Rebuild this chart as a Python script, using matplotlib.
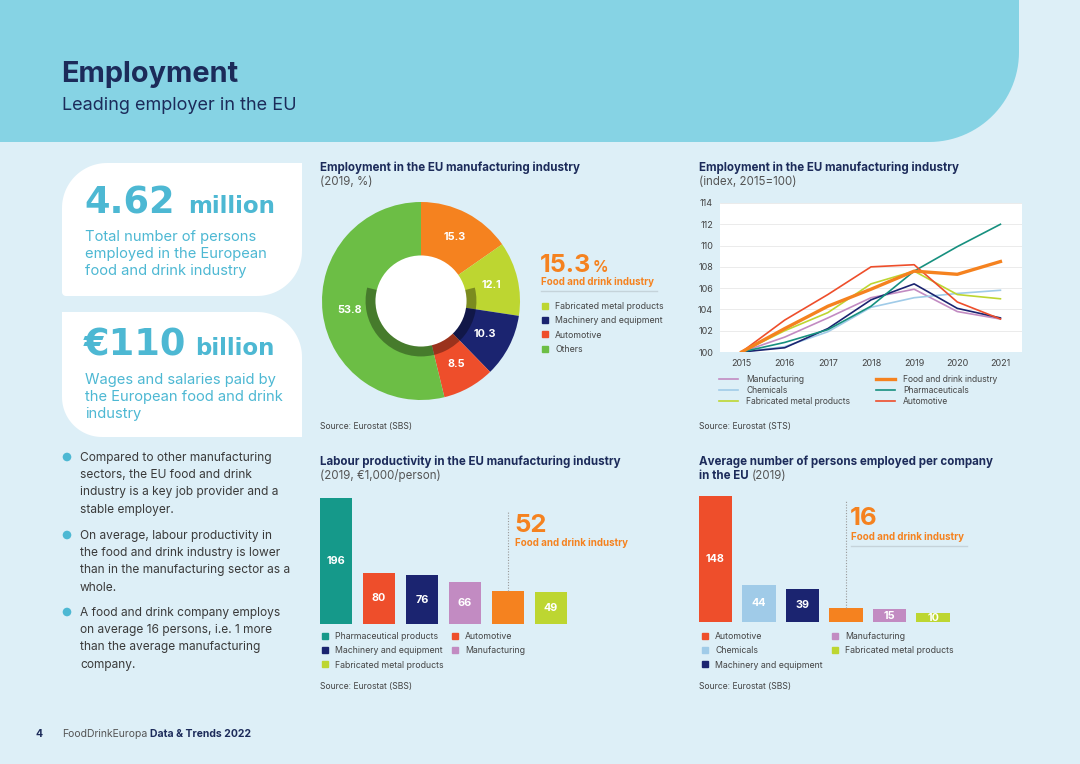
import numpy as np
import matplotlib
matplotlib.use('Agg')
import matplotlib.pyplot as plt
from matplotlib.patches import Polygon, Circle, Wedge
from matplotlib.lines import Line2D
from matplotlib.legend import Legend

plt.rcParams['font.family'] = ['Inter', 'DejaVu Sans']

W, H = 1080, 764

# colours
PAGE = '#DDEFF7'
HEAD = '#86D3E4'
NAVY = '#1C2B5A'
CYAN = '#4DB8D3'
GREY = '#444444'
ORANGE = '#F5821F'
RED = '#EE4E2B'
DARKBLUE = '#1B2470'
TEAL = '#15998A'
PINK = '#C28BC2'
LGREEN = '#BDD631'
GREEN = '#6CBE45'
LBLUE = '#A0CBE8'

# donut: employment share 2019 (%)
pie_labels = ['Food and drink industry', 'Fabricated metal products',
              'Machinery and equipment', 'Automotive', 'Others']
pie_values = [15.3, 12.1, 10.3, 8.5, 53.8]
pie_colors = [ORANGE, LGREEN, DARKBLUE, RED, GREEN]

# line chart: employment index 2015=100
years = [2015, 2016, 2017, 2018, 2019, 2020, 2021]
manufacturing = [100, 101.4, 103.2, 105.1, 105.9, 103.8, 103.1]
chemicals = [100, 100.5, 101.9, 104.2, 105.1, 105.5, 105.8]
fabricated = [100, 102.0, 103.7, 106.4, 107.6, 105.4, 105.0]
food_drink = [100, 102.2, 104.3, 105.9, 107.6, 107.3, 108.5]
pharma = [100, 100.9, 102.1, 104.3, 107.6, 109.9, 112.0]
automotive = [100, 103.0, 105.4, 108.0, 108.2, 104.7, 103.1]
machinery = [100, 100.4, 102.2, 104.9, 106.4, 104.1, 103.2]

# labour productivity 2019 (EUR 1,000 / person)
prod_labels = ['Pharmaceutical products', 'Automotive', 'Machinery and equipment',
               'Manufacturing', 'Food and drink industry', 'Fabricated metal products']
prod_values = [196, 80, 76, 66, 52, 49]
prod_colors = [TEAL, RED, DARKBLUE, PINK, ORANGE, LGREEN]

# average persons per company 2019
size_labels = ['Automotive', 'Chemicals', 'Machinery and equipment',
               'Food and drink industry', 'Manufacturing', 'Fabricated metal products']
size_values = [148, 44, 39, 16, 15, 10]
size_colors = [RED, LBLUE, DARKBLUE, ORANGE, PINK, LGREEN]


def rounded_shape(x0, y0, x1, y1, tl=0, tr=0, br=0, bl=0, n=30):
    # pixel coords, y goes down
    def arc(cx, cy, r, a0, a1):
        t = np.radians(np.linspace(a0, a1, n))
        return list(zip(cx + r * np.cos(t), cy + r * np.sin(t)))
    pts = []
    pts += arc(x0 + tl, y0 + tl, tl, 180, 270) if tl else [(x0, y0)]
    pts += arc(x1 - tr, y0 + tr, tr, 270, 360) if tr else [(x1, y0)]
    pts += arc(x1 - br, y1 - br, br, 0, 90) if br else [(x1, y1)]
    pts += arc(x0 + bl, y1 - bl, bl, 90, 180) if bl else [(x0, y1)]
    return pts


def px_axes(x0, y0, x1, y1):
    return fig.add_axes([x0 / W, 1 - y1 / H, (x1 - x0) / W, (y1 - y0) / H])


def after(t, gap=3):
    # x pixel just right of a drawn text
    fig.canvas.draw()
    bb = t.get_window_extent()
    return bb.x1 + gap


def add_legend(handles, labels, x, y, **kw):
    opts = dict(loc='upper left', bbox_to_anchor=(x, y), bbox_transform=bg.transData, frameon=False,
                fontsize=6.3, labelcolor=GREY, handlelength=0.8, handletextpad=0.8,
                labelspacing=0.6, borderpad=0, borderaxespad=0)
    opts.update(kw)
    bg.add_artist(Legend(bg, handles, labels, **opts))


fig = plt.figure(figsize=(10.8, 7.64), dpi=100)
fig.patch.set_facecolor(PAGE)

bg = fig.add_axes([0, 0, 1, 1])
bg.set_xlim(0, W)
bg.set_ylim(H, 0)
bg.axis('off')
bg.set_zorder(0)

# header band and white boxes
bg.add_patch(Polygon(rounded_shape(-5, -5, 1019, 142, br=90), closed=True, fc=HEAD, ec='none'))
bg.add_patch(Polygon(rounded_shape(62, 163, 302, 296, tl=45, br=45, bl=4), closed=True, fc='white', ec='none'))
bg.add_patch(Polygon(rounded_shape(62, 312, 302, 437, tr=45, bl=40), closed=True, fc='white', ec='none'))

bg.text(61, 74, 'Employment', fontsize=20.8, fontweight='bold', color=NAVY, va='center')
bg.text(62, 106, 'Leading employer in the EU', fontsize=13, color=NAVY, va='center')

# key figures
big = dict(family='DejaVu Sans', fontweight='bold', color=CYAN, va='baseline')
bg.text(84, 213, '4.62', fontsize=26.5, **big)
bg.text(188, 213, 'million', fontsize=16.5, **big)
bg.text(85, 254, 'Total number of persons\nemployed in the European\nfood and drink industry',
        fontsize=10.6, color=CYAN, va='center', linespacing=1.3)
bg.text(84, 355, '€110', fontsize=26.5, **big)
bg.text(195, 355, 'billion', fontsize=16.5, **big)
bg.text(85, 397, 'Wages and salaries paid by\nthe European food and drink\nindustry',
        fontsize=10.6, color=CYAN, va='center', linespacing=1.3)

bullets = [
    (457, 'Compared to other manufacturing\nsectors, the EU food and drink\nindustry is a key job provider and a\nstable employer.'),
    (535, 'On average, labour productivity in\nthe food and drink industry is lower\nthan in the manufacturing sector as a\nwhole.'),
    (612, 'A food and drink company employs\non average 16 persons, i.e. 1 more\nthan the average manufacturing\ncompany.'),
]
for y, txt in bullets:
    bg.add_patch(Circle((67, y), 4.3, fc=CYAN, ec='none'))
    bg.text(80, y - 5, txt, fontsize=8.6, color='#3a3a3a', va='top', linespacing=1.58)

bg.text(35, 734, '4', fontsize=7.5, fontweight='bold', color=NAVY, va='center')
t = bg.text(62, 734, 'FoodDrinkEuropa', fontsize=7.5, color='#555555', va='center')
bg.text(after(t, 3), 734, 'Data & Trends 2022', fontsize=7.5, fontweight='bold', color=NAVY, va='center')

# chart titles
TS = 8.3
bg.text(320, 168, 'Employment in the EU manufacturing industry', fontsize=TS, fontweight='bold', color=NAVY, va='center')
bg.text(320, 182, '(2019, %)', fontsize=TS, color='#555555', va='center')
bg.text(699, 168, 'Employment in the EU manufacturing industry', fontsize=TS, fontweight='bold', color=NAVY, va='center')
bg.text(699, 182, '(index, 2015=100)', fontsize=TS, color='#555555', va='center')
bg.text(320, 462, 'Labour productivity in the EU manufacturing industry', fontsize=TS, fontweight='bold', color=NAVY, va='center')
bg.text(320, 476, '(2019, €1,000/person)', fontsize=TS, color='#555555', va='center')
bg.text(699, 462, 'Average number of persons employed per company', fontsize=TS, fontweight='bold', color=NAVY, va='center')
t = bg.text(699, 476, 'in the EU', fontsize=TS, fontweight='bold', color=NAVY, va='center')
bg.text(after(t, 3), 476, '(2019)', fontsize=TS, color='#555555', va='center')

for x, y, s in [(320, 427, 'Source: Eurostat (SBS)'), (699, 427, 'Source: Eurostat (STS)'),
                (320, 686, 'Source: Eurostat (SBS)'), (699, 686, 'Source: Eurostat (SBS)')]:
    bg.text(x, y, s, fontsize=6.2, color=GREY, va='center')

# ---- donut ----
pax = px_axes(322, 202, 520, 400)
wedges, texts = pax.pie(pie_values, colors=pie_colors, startangle=90, counterclock=False,
                        labels=[f'{v}' for v in pie_values], labeldistance=0.73,
                        textprops=dict(color='white', fontsize=7.8, fontweight='bold', ha='center', va='center'))
pax.add_patch(Wedge((0, 0), 0.56, 166, 374, fc='black', alpha=0.35, ec='none'))
pax.add_patch(Circle((0, 0), 0.46, fc='white', ec='none'))
pax.set_xlim(-1, 1)
pax.set_ylim(-1, 1)
pax.axis('off')

t = bg.text(540, 272, '15.3', fontsize=18, fontweight='bold', color=ORANGE, va='baseline')
bg.text(after(t, 1), 272, '%', fontsize=11, fontweight='bold', color=ORANGE, va='baseline')
bg.text(541, 282, 'Food and drink industry', fontsize=7, fontweight='bold', color=ORANGE, va='center')
bg.plot([541, 657], [291, 291], color='#C5D3DA', lw=1)

h = [Line2D([], [], marker='s', ls='', color=c, markersize=5) for c in pie_colors[1:]]
add_legend(h, pie_labels[1:], 541, 302)

# ---- line chart ----
lax = px_axes(720, 203, 1022, 352)
lax.set_facecolor('white')
series = [
    ('Manufacturing', manufacturing, PINK, 1.2),
    ('Chemicals', chemicals, LBLUE, 1.2),
    ('Fabricated metal products', fabricated, LGREEN, 1.2),
    ('Machinery and equipment', machinery, DARKBLUE, 1.2),
    ('Pharmaceuticals', pharma, '#17907F', 1.2),
    ('Automotive', automotive, RED, 1.2),
    ('Food and drink industry', food_drink, ORANGE, 2.4),
]
lines = {}
for name, vals, c, lw in series:
    lines[name], = lax.plot(years, vals, color=c, lw=lw)
lax.set_xlim(2014.5, 2021.5)
lax.set_ylim(100, 114)
lax.set_yticks(range(100, 115, 2))
lax.set_xticks(years)
lax.grid(axis='y', color='#E8E8E8', lw=0.6)
lax.set_axisbelow(True)
for s in lax.spines.values():
    s.set_visible(False)
lax.tick_params(length=0, labelsize=6.5, labelcolor=GREY, pad=5)

lk = dict(fontsize=6.1, handlelength=2.3, handletextpad=0.9, labelspacing=0.25)
left_names = ['Manufacturing', 'Chemicals', 'Fabricated metal products']
add_legend([lines[n] for n in left_names], left_names, 719, 375, **lk)
right_names = ['Food and drink industry', 'Pharmaceuticals', 'Automotive']
add_legend([lines[n] for n in right_names], right_names, 876, 375, **lk)

# ---- bar chart: labour productivity ----
b1 = px_axes(314.5, 495.4, 572.5, 624)
x1 = np.arange(len(prod_values))
b1.bar(x1, prod_values, width=0.74, color=prod_colors)
for xi, v, lab in zip(x1, prod_values, prod_labels):
    if lab != 'Food and drink industry':
        b1.text(xi, v / 2, str(v), color='white', fontsize=7.8, fontweight='bold', ha='center', va='center')
b1.vlines(4, 52, 174, colors='#999999', linestyles=(0, (1, 1.5)), lw=0.8)
b1.set_xlim(-0.5, 5.5)
b1.set_ylim(0, 200)
b1.axis('off')
bg.text(514, 532, '52', fontsize=18.5, fontweight='bold', color=ORANGE, va='baseline')
bg.text(515, 543, 'Food and drink industry', fontsize=7, fontweight='bold', color=ORANGE, va='center')

pc = dict(zip(prod_labels, prod_colors))
for x, names in [(321, ['Pharmaceutical products', 'Machinery and equipment', 'Fabricated metal products']),
                 (451, ['Automotive', 'Manufacturing'])]:
    hh = [Line2D([], [], marker='s', ls='', color=pc[n], markersize=5) for n in names]
    add_legend(hh, names, x, 632)

# ---- bar chart: persons per company ----
b2 = px_axes(693.75, 494.3, 954.75, 622)
x2 = np.arange(len(size_values))
b2.bar(x2, size_values, width=0.76, color=size_colors)
for xi, v, lab in zip(x2, size_values, size_labels):
    if lab != 'Food and drink industry':
        b2.text(xi, v / 2, str(v), color='white', fontsize=7.8, fontweight='bold', ha='center', va='center')
b2.vlines(3, 16, 143, colors='#999999', linestyles=(0, (1, 1.5)), lw=0.8)
b2.set_xlim(-0.5, 5.5)
b2.set_ylim(0, 150)
b2.axis('off')
bg.text(850, 525, '16', fontsize=18.5, fontweight='bold', color=ORANGE, va='baseline')
bg.text(851, 537, 'Food and drink industry', fontsize=7, fontweight='bold', color=ORANGE, va='center')
bg.plot([851, 967], [546, 546], color='#C5D3DA', lw=1)

sc = dict(zip(size_labels, size_colors))
for x, names in [(701, ['Automotive', 'Chemicals', 'Machinery and equipment']),
                 (831, ['Manufacturing', 'Fabricated metal products'])]:
    hh = [Line2D([], [], marker='s', ls='', color=sc[n], markersize=5) for n in names]
    add_legend(hh, names, x, 632)

fig.savefig('out.png', dpi=100, facecolor=PAGE)
